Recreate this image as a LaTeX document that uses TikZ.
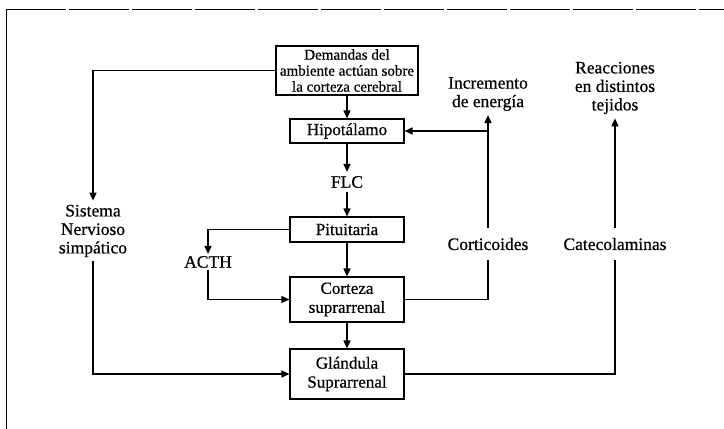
\documentclass[tikz,border=0pt]{standalone}
\usepackage{fontspec}
\setmainfont{Liberation Serif}
\newfontfamily\heavyfont{Liberation Serif}[FakeBold=0.6]
\usetikzlibrary{arrows.meta}
\begin{document}
\begin{tikzpicture}[x=1pt,y=-1pt,
  box/.style={draw,line width=1.1pt,minimum width=114pt,inner sep=0pt,align=center,font=\heavyfont\fontsize{17}{19}\selectfont},
  lbl/.style={align=center,inner sep=4pt,font=\heavyfont\fontsize{17.5}{18.5}\selectfont},
  conn/.style={line width=1.5pt},
  arr/.style={conn,-{Triangle[length=8pt,width=7pt]}}]
\useasboundingbox (0,0) rectangle (724,429);
\draw[line width=0.8pt] (6,429) -- (6,9);
\draw[line width=0.8pt,dash pattern=on 60pt off 3pt] (6,9) -- (724,9);

\node[box,minimum width=142pt,minimum height=49pt,font=\heavyfont\fontsize{15}{16}\selectfont] (dem) at (347,70.5) {Demandas del\\ambiente actúan sobre\\la corteza cerebral};
\node[box,minimum height=24pt] (hip) at (347,131) {Hipotálamo};
\node[lbl] (flc) at (347,182) {FLC};
\node[box,minimum height=25pt] (pit) at (347,229.5) {Pituitaria};
\node[lbl,inner sep=2pt] (acth) at (208,262) {ACTH};
\node[box,minimum height=45pt] (cor) at (347,299.5) {Corteza\\suprarrenal};
\node[box,minimum height=50pt] (gla) at (347,374) {Glándula\\Suprarrenal};
\node[lbl] (sis) at (93,231) {Sistema\\Nervioso\\simpático};
\node[lbl,inner ysep=10pt] (cort) at (488,244) {Corticoides};
\node[lbl,inner ysep=10pt] (cat) at (615,244) {Catecolaminas};
\node[lbl] (inc) at (488,94) {Incremento\\de energía};
\node[lbl] (rea) at (615,88) {Reacciones\\en distintos\\tejidos};
\coordinate (j) at (488,131);

\draw[arr] (dem) -- (hip);
\draw[arr] (hip) -- (flc);
\draw[arr] (flc) -- (pit);
\draw[arr] (pit) -- (cor);
\draw[arr] (cor) -- (gla);
\draw[arr] (pit.west) -| (acth.north);
\draw[arr] (acth.south) |- (cor.west);
\draw[arr] (dem.west) -| (sis.north);
\draw[arr] (sis.south) |- (gla.west);
\draw[conn] (cor.east) -| (cort.south);
\draw[arr] (cort.north) -- (inc.south);
\draw[arr] (j) -- (hip.east);
\draw[conn] (gla.east) -| (cat.south);
\draw[arr] (cat.north) -- (rea.south);
\end{tikzpicture}
\end{document}
